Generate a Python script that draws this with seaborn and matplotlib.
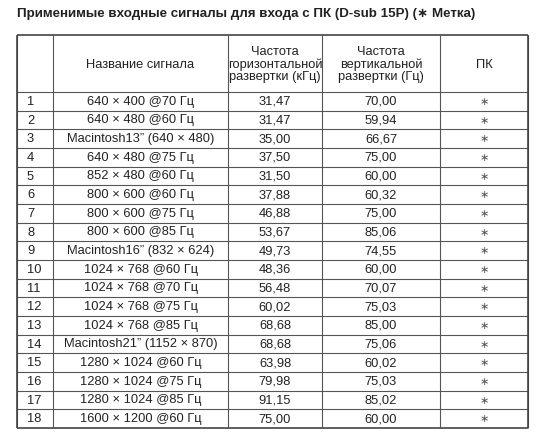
import matplotlib
matplotlib.use("Agg")
import matplotlib.pyplot as plt
import seaborn as sns

sns.set_theme(style="white")
plt.rcParams["font.family"] = ["Liberation Sans", "DejaVu Sans"]

title = "Применимые входные сигналы для входа с ПК (D-sub 15P) (\u2217 Метка)"
headers = ["", "Название сигнала", "Частота\nгоризонтальной\nразвертки (кГц)",
           "Частота\nвертикальной\nразвертки (Гц)", "ПК"]
signals = ["640 × 400 @70 Гц", "640 × 480 @60 Гц", "Macintosh13\u201d (640 × 480)",
           "640 × 480 @75 Гц", "852 × 480 @60 Гц", "800 × 600 @60 Гц",
           "800 × 600 @75 Гц", "800 × 600 @85 Гц", "Macintosh16\u201d (832 × 624)",
           "1024 × 768 @60 Гц", "1024 × 768 @70 Гц", "1024 × 768 @75 Гц",
           "1024 × 768 @85 Гц", "Macintosh21\u201d (1152 × 870)", "1280 × 1024 @60 Гц",
           "1280 × 1024 @75 Гц", "1280 × 1024 @85 Гц", "1600 × 1200 @60 Гц"]
h_freq = ["31,47", "31,47", "35,00", "37,50", "31,50", "37,88", "46,88", "53,67", "49,73",
          "48,36", "56,48", "60,02", "68,68", "68,68", "63,98", "79,98", "91,15", "75,00"]
v_freq = ["70,00", "59,94", "66,67", "75,00", "60,00", "60,32", "75,00", "85,06", "74,55",
          "60,00", "70,07", "75,03", "85,00", "75,06", "60,02", "75,03", "85,02", "60,00"]
pc_mark = ["\u2217"] * len(signals)

W, H = 538, 433
fig = plt.figure(figsize=(W / 100, H / 100), dpi=100)
ax = fig.add_axes([0, 0, 1, 1])
ax.set_xlim(0, W)
ax.set_ylim(H, 0)
ax.axis("off")

col_x = [17, 53, 228, 322, 440, 528]
top, head_bot, bottom = 35, 92, 428
row_h = (bottom - head_bot) / len(signals)
fs = 9.3

ax.text(17, 14, title, fontsize=9.6, fontweight="bold", va="center", ha="left", color="#222")

# grid lines
ax.hlines([top, bottom], col_x[0], col_x[-1], color="#444", lw=1.2)
ax.hlines([head_bot + i * row_h for i in range(len(signals))], col_x[0], col_x[-1],
          color="#555", lw=0.8)
ax.vlines(col_x, top, bottom, color="#555", lw=0.8)
ax.vlines([col_x[0], col_x[-1]], top, bottom, color="#444", lw=1.2)

for j, hd in enumerate(headers):
    ax.text((col_x[j] + col_x[j + 1]) / 2, (top + head_bot) / 2 + 1, hd, fontsize=fs,
            ha="center", va="center", linespacing=1.05, color="#222")

for i in range(len(signals)):
    y = head_bot + (i + 0.5) * row_h + 0.5
    row = [str(i + 1), signals[i], h_freq[i], v_freq[i], pc_mark[i]]
    for j, val in enumerate(row):
        if j == 0:
            ax.text(col_x[0] + 10, y, val, fontsize=fs, ha="left", va="center", color="#222")
        elif j == 4:
            ax.text((col_x[j] + col_x[j + 1]) / 2, y, val, fontsize=8, ha="center",
                    va="center", color="#555", family=["DejaVu Sans"])
        else:
            ax.text((col_x[j] + col_x[j + 1]) / 2, y, val, fontsize=fs,
                    ha="center", va="center", color="#222")

fig.savefig("out.png", dpi=100)
